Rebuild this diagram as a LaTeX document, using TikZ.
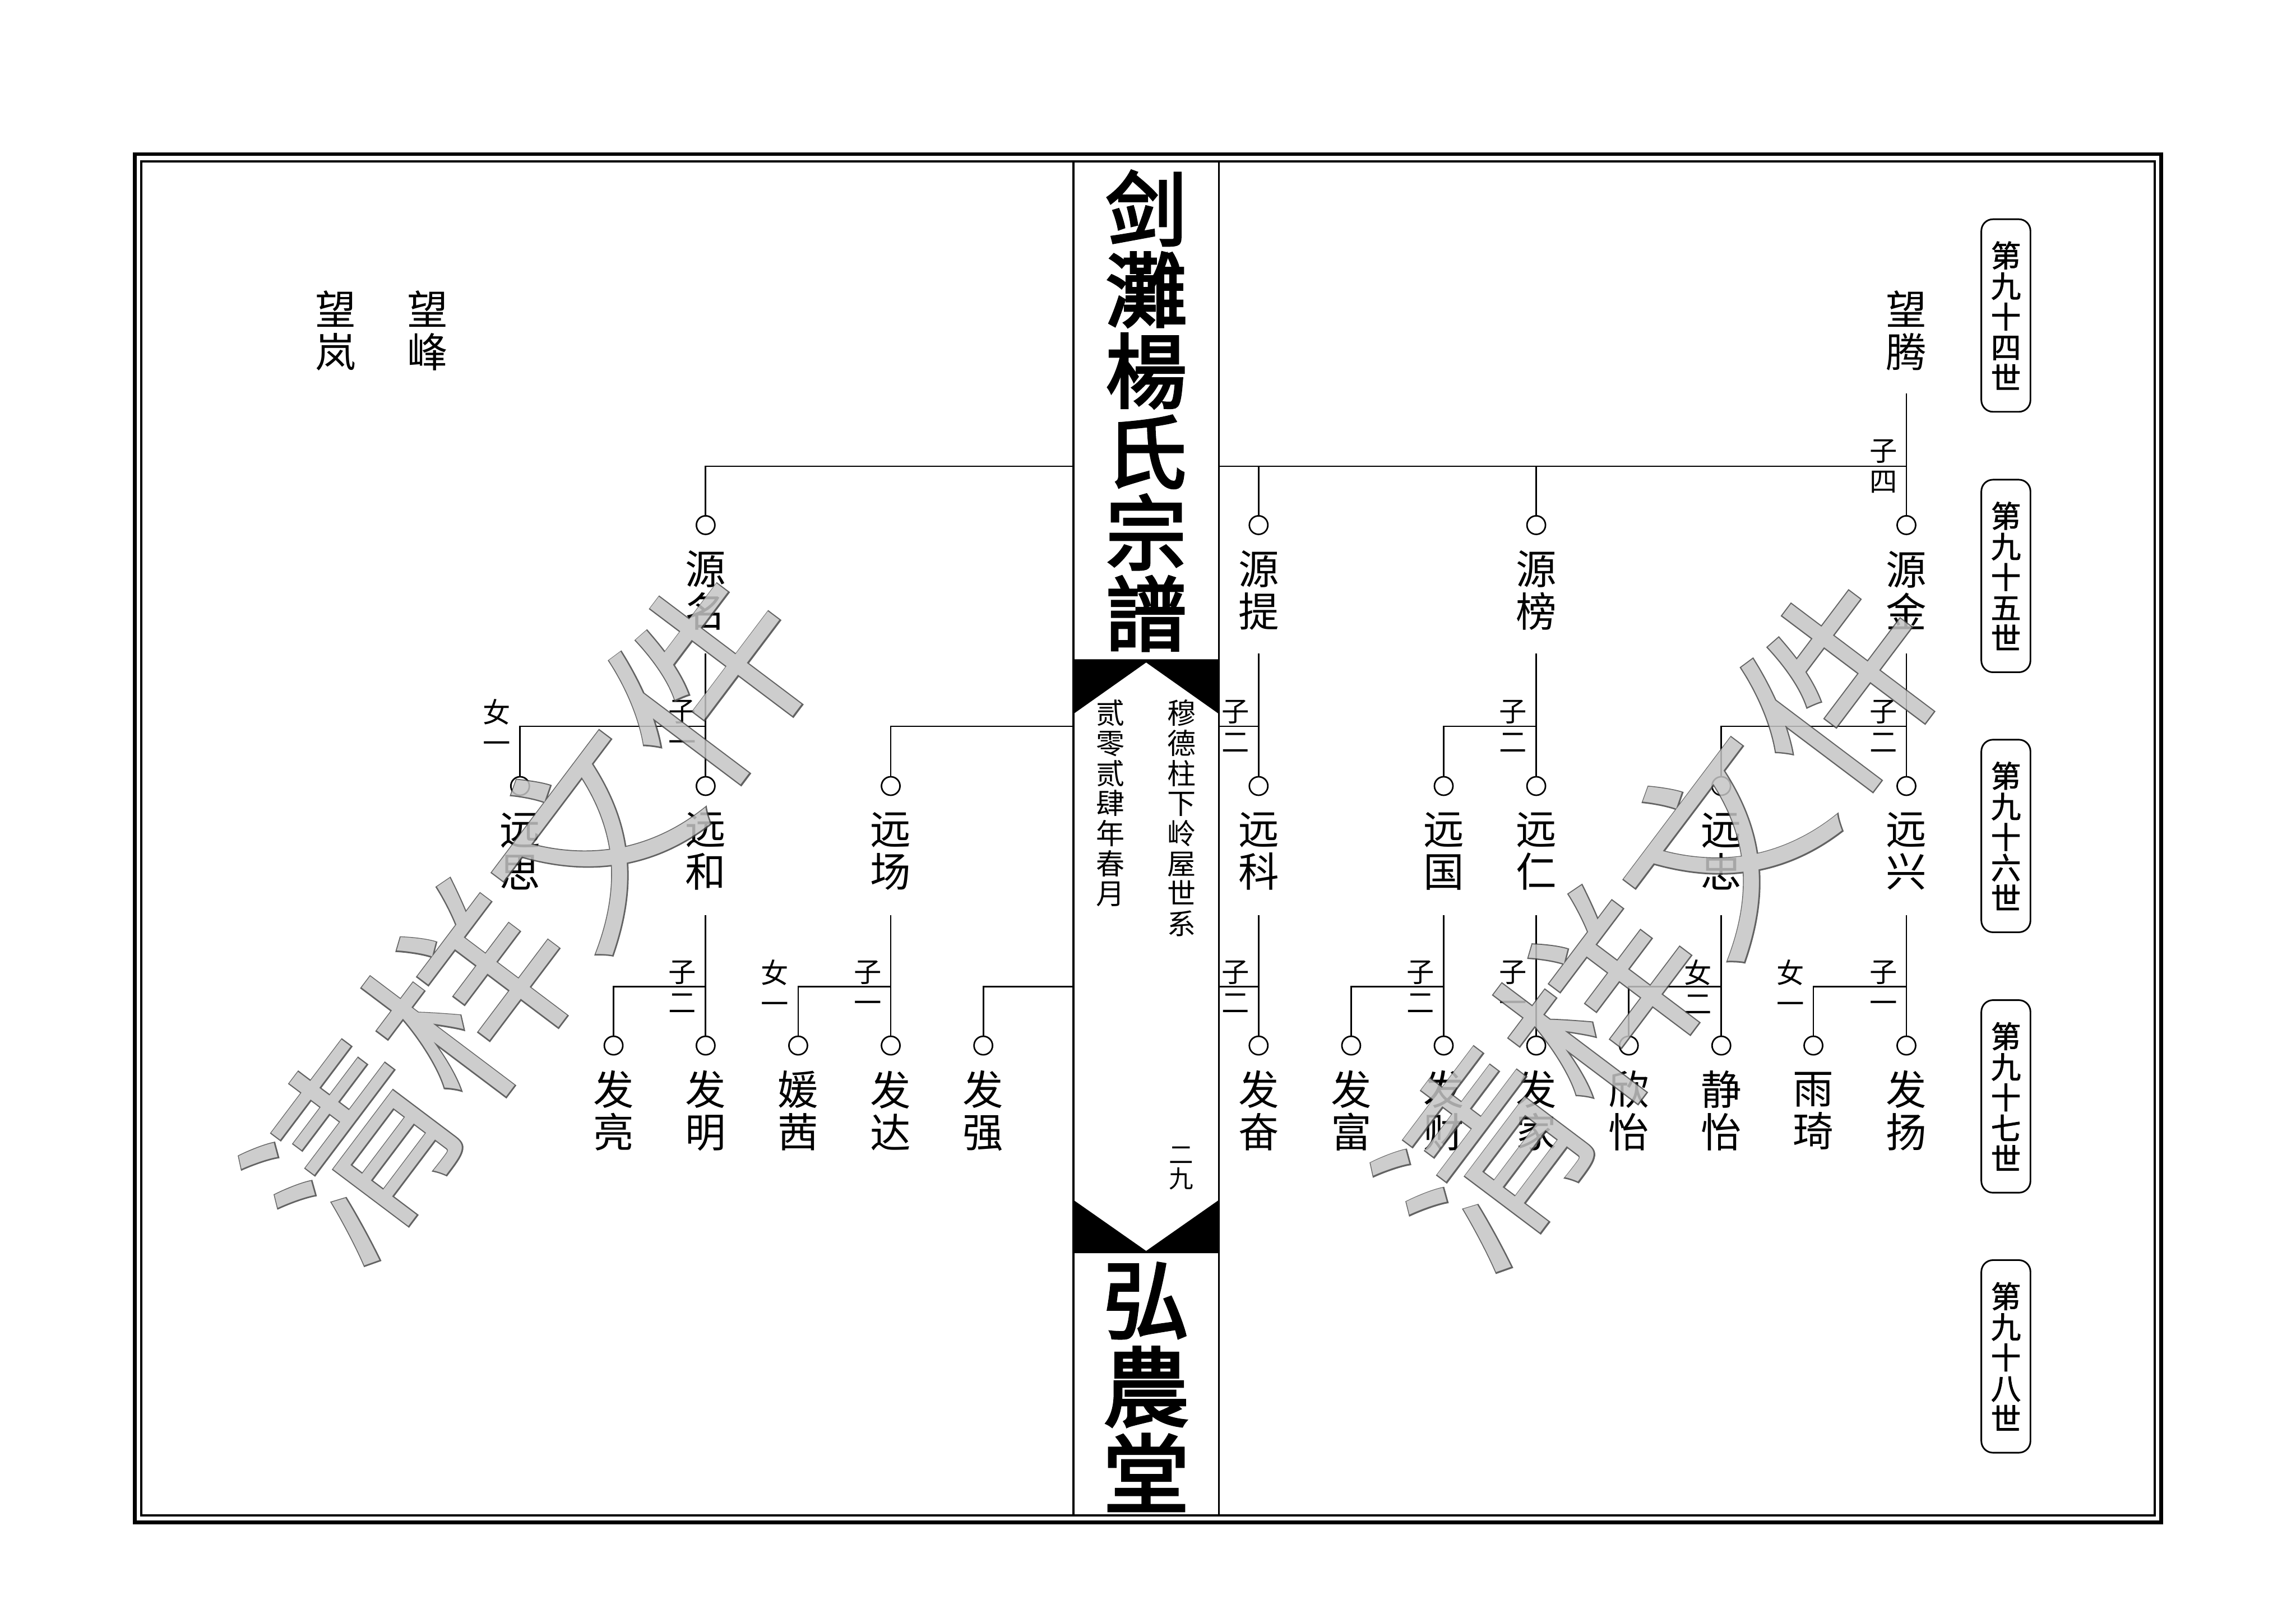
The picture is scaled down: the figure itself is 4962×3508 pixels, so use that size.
\documentclass[tikz,border=0pt]{standalone}
\usepackage{fontspec}
\newfontfamily\song{Noto Sans CJK SC}
\newfontfamily\songbf[FakeBold=1.5]{Noto Sans CJK SC}
\newfontfamily\heavy[FakeBold=3]{Noto Sans CJK SC}
\newfontfamily\wmark[FakeBold=1.2]{Noto Sans CJK SC}
\usetikzlibrary{positioning}
\definecolor{wmfill}{RGB}{196,196,196}
\definecolor{wmline}{RGB}{70,70,70}

\begin{document}
\begin{tikzpicture}[x=0.01cm, y=-0.01cm,
    ln/.style={line width=0.95pt},
    dot/.style={circle, draw, line width=0.95pt, minimum size=0.4cm, inner sep=0pt},
    pname/.style={font=\song\fontsize{25}{26.2}\selectfont, align=center, inner sep=0pt},
    lbl/.style={font=\song\fontsize{17}{18.8}\selectfont, align=center, inner sep=0pt},
    genbox/.style={draw, line width=1pt, rounded corners=0.25cm, minimum width=1.06cm, minimum height=4.16cm, inner sep=0pt, align=center, font=\songbf\fontsize{18.5}{18.8}\selectfont},
    spinetxt/.style={font=\song\fontsize{17.6}{18.5}\selectfont, align=center, inner sep=0pt, anchor=north},
    wm/.style={rotate=53, inner sep=0pt}
  ]
  \useasboundingbox (0,0) rectangle (4962,3508);

  % page frame
  \draw[line width=2.3pt] (291,333) rectangle (4671,3291);
  \draw[line width=1.3pt] (305,349) rectangle (4657,3276);

  % spine
  \draw[line width=1.15pt] (2320,349) -- (2320,3276) (2634,349) -- (2634,3276);
  \fill (2320,1425) -- (2634,1425) -- (2634,1543) -- (2477,1432) -- (2320,1543) -- cycle;
  \fill (2320,2709) -- (2634,2709) -- (2634,2594) -- (2477,2704) -- (2320,2594) -- cycle;
  \node[font=\heavy\fontsize{49.8}{49.8}\selectfont, align=center, inner sep=0pt] (title) at (2477,888) {剑\\灘\\楊\\氏\\宗\\譜};
  \node[font=\heavy\fontsize{53}{53.5}\selectfont, align=center, inner sep=0pt] (hall) at (2477,2998) {弘\\農\\堂};
  \node[spinetxt] (lineage) at (2554,1512) {穆\\德\\柱\\下\\岭\\屋\\世\\系};
  \node[spinetxt] (date) at (2400,1512) {贰\\零\\贰\\肆\\年\\春\\月};
  \node[font=\song\fontsize{15}{15}\selectfont, align=center, inner sep=0pt] (pageno) at (2553,2525) {二\\九};

  % generation boxes
  \node[genbox] (g94) at (4335,682) {第\\九\\十\\四\\世};
  \node[genbox] (g95) at (4335,1245) {第\\九\\十\\五\\世};
  \node[genbox] (g96) at (4335,1807) {第\\九\\十\\六\\世};
  \node[genbox] (g97) at (4335,2370) {第\\九\\十\\七\\世};
  \node[genbox] (g98) at (4335,2932) {第\\九\\十\\八\\世};

  % 94th
  \node[pname] (wt) at (4120,715) {望\\腾};
  \node[pname] (wf) at (924,715) {望\\峰};
  \node[pname] (wl) at (725,715) {望\\岚};

  % 95th
  \node[dot] (d-jin) at (4120,1135) {};
  \node[pname] (jin) at (4120,1276) {源\\金};
  \node[dot] (d-bang) at (3320,1135) {};
  \node[pname] (bang) at (3320,1276) {源\\榜};
  \node[dot] (d-ti) at (2720,1135) {};
  \node[pname] (ti) at (2720,1276) {源\\提};
  \node[dot] (d-ming) at (1525,1135) {};
  \node[pname] (ming) at (1525,1276) {源\\名};

  % 96th
  \node[dot] (d-xing) at (4120,1699) {};
  \node[pname] (xing) at (4120,1840) {远\\兴};
  \node[dot] (d-zhong) at (3720,1699) {};
  \node[pname] (zhong) at (3720,1840) {远\\忠};
  \node[dot] (d-ren) at (3320,1699) {};
  \node[pname] (ren) at (3320,1840) {远\\仁};
  \node[dot] (d-guo) at (3120,1699) {};
  \node[pname] (guo) at (3120,1840) {远\\国};
  \node[dot] (d-ke) at (2720,1699) {};
  \node[pname] (ke) at (2720,1840) {远\\科};
  \node[dot] (d-chang) at (1925,1699) {};
  \node[pname] (chang) at (1925,1840) {远\\场};
  \node[dot] (d-he) at (1525,1699) {};
  \node[pname] (he) at (1525,1840) {远\\和};
  \node[dot] (d-si) at (1124,1699) {};
  \node[pname] (si) at (1124,1840) {远\\思};

  % 97th
  \node[dot] (d-yang) at (4120,2260) {};
  \node[pname] (yang) at (4120,2401) {发\\扬};
  \node[dot] (d-qi) at (3919,2260) {};
  \node[pname] (qi) at (3919,2401) {雨\\琦};
  \node[dot] (d-jing) at (3720,2260) {};
  \node[pname] (jing) at (3720,2401) {静\\怡};
  \node[dot] (d-xin) at (3520,2260) {};
  \node[pname] (xin) at (3520,2401) {欣\\怡};
  \node[dot] (d-jia) at (3320,2260) {};
  \node[pname] (jia) at (3320,2401) {发\\家};
  \node[dot] (d-cai) at (3120,2260) {};
  \node[pname] (cai) at (3120,2401) {发\\财};
  \node[dot] (d-fu) at (2920,2260) {};
  \node[pname] (fu) at (2920,2401) {发\\富};
  \node[dot] (d-fen) at (2720,2260) {};
  \node[pname] (fen) at (2720,2401) {发\\奋};
  \node[dot] (d-qiang) at (2125,2260) {};
  \node[pname] (qiang) at (2125,2401) {发\\强};
  \node[dot] (d-da) at (1925,2260) {};
  \node[pname] (da) at (1925,2401) {发\\达};
  \node[dot] (d-yuan) at (1725,2260) {};
  \node[pname] (yuan) at (1725,2401) {媛\\茜};
  \node[dot] (d-fm) at (1525,2260) {};
  \node[pname] (fm) at (1525,2401) {发\\明};
  \node[dot] (d-liang) at (1326,2260) {};
  \node[pname] (liang) at (1326,2401) {发\\亮};

  % line ends
  \coordinate (wt-s) at (4120,850);
  \coordinate (sp-r1) at (2634,1008);
  \coordinate (sp-l1) at (2320,1008);
  \coordinate (jin-s) at (4120,1413);
  \coordinate (bang-s) at (3320,1413);
  \coordinate (ti-s) at (2720,1413);
  \coordinate (ming-s) at (1525,1413);
  \coordinate (jin-j) at (4120,1570);
  \coordinate (bang-j) at (3320,1570);
  \coordinate (ti-j) at (2720,1570);
  \coordinate (ming-j) at (1525,1570);
  \coordinate (sp-r2) at (2634,1570);
  \coordinate (sp-l2) at (2320,1570);
  \coordinate (xing-s) at (4120,1978);
  \coordinate (zhong-s) at (3720,1978);
  \coordinate (ren-s) at (3320,1978);
  \coordinate (guo-s) at (3120,1978);
  \coordinate (ke-s) at (2720,1978);
  \coordinate (chang-s) at (1925,1978);
  \coordinate (he-s) at (1525,1978);
  \coordinate (xing-j) at (4120,2133);
  \coordinate (zhong-j) at (3720,2133);
  \coordinate (ren-j) at (3320,2133);
  \coordinate (guo-j) at (3120,2133);
  \coordinate (ke-j) at (2720,2133);
  \coordinate (chang-j) at (1925,2133);
  \coordinate (he-j) at (1525,2133);
  \coordinate (sp-r3) at (2634,2133);
  \coordinate (sp-l3) at (2320,2133);

  % 94th -> 95th
  \draw[ln] (wt-s) -- (d-jin.north);
  \draw[ln] (sp-r1) -| (d-jin.north);
  \draw[ln] (sp-r1) -| (d-bang.north);
  \draw[ln] (sp-r1) -| (d-ti.north);
  \draw[ln] (sp-l1) -| (d-ming.north);
  \node[lbl] (n-wt) at ([xshift=-0.5cm]sp-r1 -| wt-s) {子\\四};

  % 95th -> 96th
  \draw[ln] (jin-s) -- (d-xing.north);
  \draw[ln] (jin-j) -| (d-zhong.north);
  \draw[ln] (bang-s) -- (d-ren.north);
  \draw[ln] (bang-j) -| (d-guo.north);
  \draw[ln] (ti-s) -- (d-ke.north);
  \draw[ln] (sp-r2) -| (d-ke.north);
  \draw[ln] (ming-s) -- (d-he.north);
  \draw[ln] (ming-j) -| (d-si.north);
  \draw[ln] (sp-l2) -| (d-chang.north);
  \node[lbl] (n-jin) at ([xshift=-0.5cm]jin-j) {子\\二};
  \node[lbl] (n-bang) at ([xshift=-0.5cm]bang-j) {子\\二};
  \node[lbl] (n-ti) at ([xshift=-0.5cm]ti-j) {子\\二};
  \node[lbl] (n-ming) at ([xshift=-0.5cm]ming-j) {子\\一};
  \node[lbl] (f-ming) at ([xshift=-0.5cm]ming-j -| d-si) {女\\一};

  % 96th -> 97th
  \draw[ln] (xing-s) -- (d-yang.north);
  \draw[ln] (xing-j) -| (d-qi.north);
  \draw[ln] (zhong-s) -- (d-jing.north);
  \draw[ln] (zhong-j) -| (d-xin.north);
  \draw[ln] (ren-s) -- (d-jia.north);
  \draw[ln] (guo-s) -- (d-cai.north);
  \draw[ln] (guo-j) -| (d-fu.north);
  \draw[ln] (ke-s) -- (d-fen.north);
  \draw[ln] (sp-r3) -| (d-fen.north);
  \draw[ln] (sp-l3) -| (d-qiang.north);
  \draw[ln] (chang-s) -- (d-da.north);
  \draw[ln] (chang-j) -| (d-yuan.north);
  \draw[ln] (he-s) -- (d-fm.north);
  \draw[ln] (he-j) -| (d-liang.north);
  \node[lbl] (n-xing) at ([xshift=-0.5cm]xing-j) {子\\一};
  \node[lbl] (f-xing) at ([xshift=-0.5cm]xing-j -| d-qi) {女\\一};
  \node[lbl] (f-zhong) at ([xshift=-0.5cm]zhong-j) {女\\二};
  \node[lbl] (n-ren) at ([xshift=-0.5cm]ren-j) {子\\一};
  \node[lbl] (n-guo) at ([xshift=-0.5cm]guo-j) {子\\二};
  \node[lbl] (n-ke) at ([xshift=-0.5cm]ke-j) {子\\二};
  \node[lbl] (n-chang) at ([xshift=-0.5cm]chang-j) {子\\一};
  \node[lbl] (f-chang) at ([xshift=-0.5cm]chang-j -| d-yuan) {女\\一};
  \node[lbl] (n-he) at ([xshift=-0.5cm]he-j) {子\\二};

  % watermark
  \begin{scope}[transparency group, opacity=0.85]
    \node[wm, font=\wmark\fontsize{121}{121}\selectfont, text=wmline] (wm-l0) at (1146,1975) {清样文件};
    \node[wm, font=\song\fontsize{121}{121}\selectfont, text=wmfill] (wm-l) at (1146,1975) {清样文件};
    \node[wm, font=\wmark\fontsize{121}{121}\selectfont, text=wmline] (wm-r0) at (3592,1990) {清样文件};
    \node[wm, font=\song\fontsize{121}{121}\selectfont, text=wmfill] (wm-r) at (3592,1990) {清样文件};
  \end{scope}
\end{tikzpicture}
\end{document}
